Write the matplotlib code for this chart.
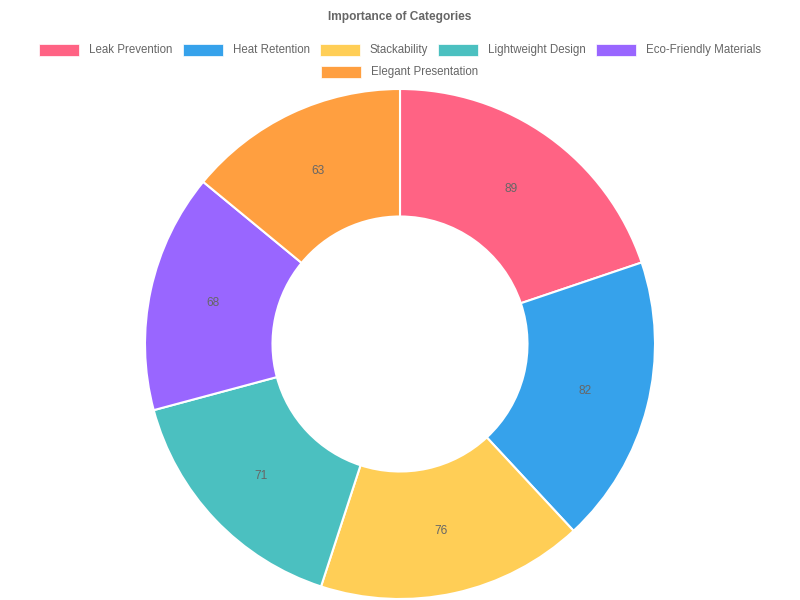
import matplotlib
matplotlib.use('Agg')
import numpy as np
from matplotlib import pyplot as plt
from matplotlib.patches import Rectangle

categories = ['Leak Prevention', 'Heat Retention', 'Stackability',
              'Lightweight Design', 'Eco-Friendly Materials', 'Elegant Presentation']
values = [89, 82, 76, 71, 68, 63]
colors = ['#FF6384', '#36A2EB', '#FFCE56', '#4BC0C0', '#9966FF', '#FF9F40']
title = 'Importance of Categories'

plt.rcParams['font.family'] = ['Liberation Sans', 'DejaVu Sans']

W, H = 800, 600
fig = plt.figure(figsize=(8, 6), dpi=100)

# pie area: centre (400, 344), radius 255 px
cx, cy, r = 400, 344, 255
ax = fig.add_axes([(cx - r) / W, (H - cy - r) / H, 2 * r / W, 2 * r / H])
ax.axis('off')

wedges, texts = ax.pie(values, colors=colors, startangle=90, counterclock=False,
                       radius=1, labels=[str(v) for v in values], labeldistance=0.75,
                       wedgeprops=dict(width=0.5, edgecolor='white', linewidth=1.5),
                       textprops=dict(fontsize=8.6, color='#666666', ha='center', va='center'))
ax.set_xlim(-1, 1)
ax.set_ylim(-1, 1)
ax.set_aspect('equal')

fig.text(0.5, 1 - 17 / H, title, ha='center', va='center', fontsize=8.6,
         fontweight='bold', color='#666666')

# legend drawn in pixel coords, centred rows like the original
fig.canvas.draw()
renderer = fig.canvas.get_renderer()
box_w, box_h, gap, pad = 40, 12, 10, 10
fs = 8.3


def text_w(s):
    t = fig.text(0, 0, s, fontsize=fs)
    w = t.get_window_extent(renderer).width
    t.remove()
    return w


rows = [list(range(5)), [5]]
row_y = [50, 72]
for row, y in zip(rows, row_y):
    widths = [box_w + gap + text_w(categories[i]) for i in row]
    total = sum(widths) + pad * (len(row) - 1)
    x = (W - total) / 2
    for i, w in zip(row, widths):
        fig.patches.append(Rectangle((x / W, (H - y - box_h / 2) / H), box_w / W, box_h / H,
                                     transform=fig.transFigure, facecolor=colors[i],
                                     edgecolor='white', linewidth=0.5))
        fig.text((x + box_w + gap) / W, (H - y) / H, categories[i], fontsize=fs,
                 color='#666666', ha='left', va='center')
        x += w + pad

fig.savefig('out.png', dpi=100)
